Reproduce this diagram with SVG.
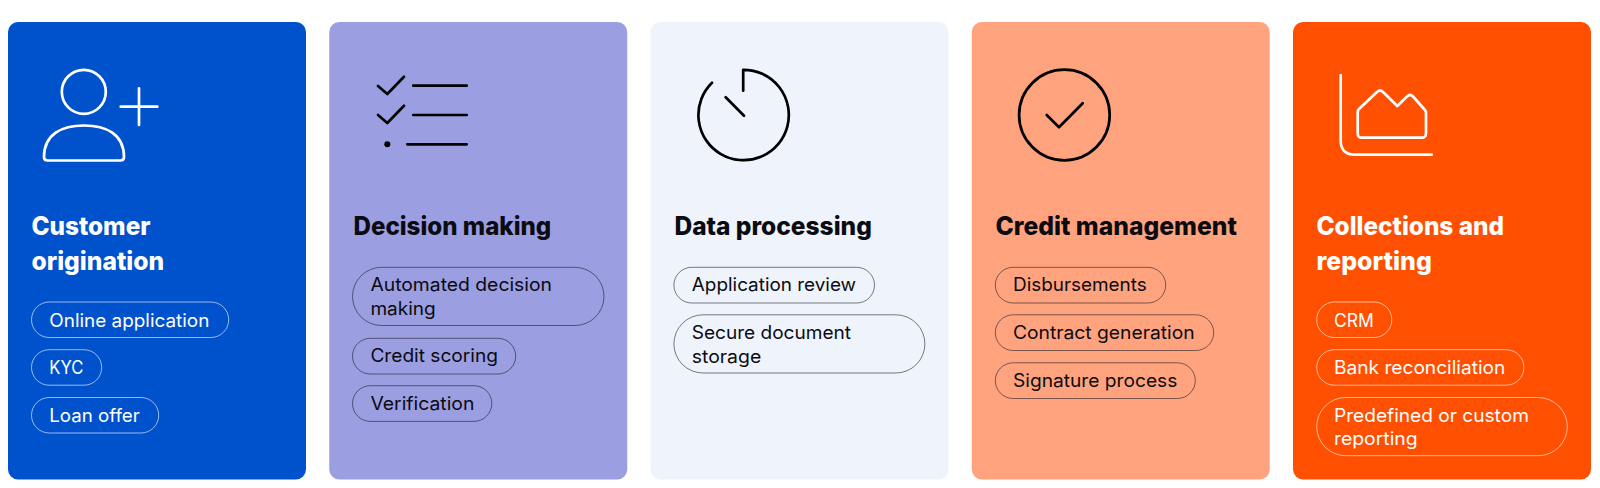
<svg xmlns="http://www.w3.org/2000/svg" width="1600" height="488" viewBox="0 0 1600 488">
<style>
.h{font-family:"Inter","Liberation Sans",sans-serif;font-weight:800;font-size:25.5px}
.t{font-family:"Inter","Liberation Sans",sans-serif;font-weight:400;font-size:18.4px}
.w{fill:#fff}.k{fill:#0b0b12}
.pw{fill:none;stroke:#fff;stroke-opacity:.75;stroke-width:.8}
.pk{fill:none;stroke:#15151f;stroke-opacity:.8;stroke-width:.7}
.iw{fill:none;stroke:#fff;stroke-width:2.700;stroke-linecap:round;stroke-linejoin:round}
.ik{fill:none;stroke:#000;stroke-width:2.700;stroke-linecap:round;stroke-linejoin:round}
</style>
<rect width="1600" height="488" fill="#fff"/>
<g id="card-customer-origination">
<rect x="8" y="22" width="298" height="457.500" rx="10" fill="#0052cc"/>
<circle cx="83.800" cy="91.800" r="22" class="iw"/>
<path d="M120.700 106.700H157.300M139 88.300V125" class="iw"/>
<path d="M44 157C44 134 62 125.500 84 125.500C106 125.500 124 134 124 157C124 159.500 123 160.500 120.500 160.500H47.500C45 160.500 44 159.500 44 157Z" class="iw"/>
<text class="h w" x="31.500" y="234.500" textLength="119" lengthAdjust="spacingAndGlyphs">Customer</text>
<text class="h w" x="31.500" y="270" textLength="132.600" lengthAdjust="spacingAndGlyphs">origination</text>
<rect x="31.500" y="302" width="197.200" height="35.500" rx="17.750" class="pw"/>
<text class="t w" x="49.300" y="326.500" textLength="160" lengthAdjust="spacingAndGlyphs">Online application</text>
<rect x="31.500" y="349.700" width="70.200" height="35.500" rx="17.750" class="pw"/>
<text class="t w" x="49.300" y="374.300" textLength="34" lengthAdjust="spacingAndGlyphs">KYC</text>
<rect x="31.500" y="397.500" width="127.200" height="35.500" rx="17.750" class="pw"/>
<text class="t w" x="49.300" y="422" textLength="90.500" lengthAdjust="spacingAndGlyphs">Loan offer</text>
</g>
<g id="card-decision-making">
<rect x="329.250" y="22" width="298" height="457.500" rx="10" fill="#9b9ee0"/>
<path d="M378 86L387.300 94L404 76.700M378 115L387.300 123L404 105.700M413.300 85.700H466.700M413.300 115H466.700M407.300 144.300H466.700" class="ik"/>
<circle cx="387.300" cy="144.300" r="3" fill="#000"/>
<text class="h k" x="353.500" y="234.500" textLength="197.700" lengthAdjust="spacingAndGlyphs">Decision making</text>
<rect x="352.500" y="267.300" width="251.500" height="58.200" rx="29.100" class="pk"/>
<text class="t k" x="370.400" y="291.300" textLength="181.600" lengthAdjust="spacingAndGlyphs">Automated decision</text>
<text class="t k" x="370.400" y="314.800" textLength="65.300" lengthAdjust="spacingAndGlyphs">making</text>
<rect x="352.500" y="338.300" width="163.200" height="35.700" rx="17.850" class="pk"/>
<text class="t k" x="370.400" y="362.200" textLength="127.600" lengthAdjust="spacingAndGlyphs">Credit scoring</text>
<rect x="352.500" y="385.700" width="139.300" height="35.700" rx="17.850" class="pk"/>
<text class="t k" x="370.400" y="409.700" textLength="104" lengthAdjust="spacingAndGlyphs">Verification</text>
</g>
<g id="card-data-processing">
<rect x="650.500" y="22" width="298" height="457.500" rx="10" fill="#eff3fb"/>
<path d="M712 82.700A45.200 45.200 0 1 0 743.200 69.800V90.700M725.700 97.300L744 115.700" class="ik"/>
<text class="h k" x="674.500" y="234.500" textLength="197.300" lengthAdjust="spacingAndGlyphs">Data processing</text>
<rect x="673.900" y="267.300" width="200.600" height="35.700" rx="17.850" class="pk"/>
<text class="t k" x="691.800" y="291.300" textLength="164.300" lengthAdjust="spacingAndGlyphs">Application review</text>
<rect x="673.900" y="314.800" width="251" height="58.200" rx="29.100" class="pk"/>
<text class="t k" x="691.800" y="339.300" textLength="159.200" lengthAdjust="spacingAndGlyphs">Secure document</text>
<text class="t k" x="691.800" y="362.700" textLength="69.400" lengthAdjust="spacingAndGlyphs">storage</text>
</g>
<g id="card-credit-management">
<rect x="971.750" y="22" width="298" height="457.500" rx="10" fill="#ffa37f"/>
<circle cx="1064.400" cy="115" r="45.300" class="ik"/>
<path d="M1046.700 115L1059 127.300L1082.700 103.300" class="ik"/>
<text class="h k" x="995.500" y="234.500" textLength="241.300" lengthAdjust="spacingAndGlyphs">Credit management</text>
<rect x="995.300" y="267.300" width="170.400" height="35.700" rx="17.850" class="pk"/>
<text class="t k" x="1013" y="291.300" textLength="133.700" lengthAdjust="spacingAndGlyphs">Disbursements</text>
<rect x="995.300" y="314.800" width="218.400" height="35.700" rx="17.850" class="pk"/>
<text class="t k" x="1013" y="339.300" textLength="181.600" lengthAdjust="spacingAndGlyphs">Contract generation</text>
<rect x="995.300" y="362.800" width="200" height="35.700" rx="17.850" class="pk"/>
<text class="t k" x="1013" y="387.300" textLength="164.300" lengthAdjust="spacingAndGlyphs">Signature process</text>
</g>
<g id="card-collections-reporting">
<rect x="1293" y="22" width="298" height="457.500" rx="10" fill="#ff4f00"/>
<path d="M1340.700 75V141C1340.700 150 1346 154.700 1355 154.700H1431.700" class="iw"/>
<path d="M1357.700 112C1357.700 110.500 1358 110 1359 109L1377 92C1379 90 1381 90 1383 92L1397.300 106L1407 96.500C1409 94.500 1411 94.500 1413 96.500L1424.500 109.500C1425.500 110.500 1426 111.500 1426 113V133C1426 136.500 1425 137.700 1421.500 137.700H1362C1358.700 137.700 1357.700 136.500 1357.700 133Z" class="iw"/>
<text class="h w" x="1316.500" y="234.500" textLength="187.500" lengthAdjust="spacingAndGlyphs">Collections and</text>
<text class="h w" x="1316.500" y="270" textLength="115.300" lengthAdjust="spacingAndGlyphs">reporting</text>
<rect x="1316.700" y="302" width="75.100" height="35.500" rx="17.750" class="pw"/>
<text class="t w" x="1334" y="326.500" textLength="39.800" lengthAdjust="spacingAndGlyphs">CRM</text>
<rect x="1316.700" y="349.700" width="207.200" height="35.500" rx="17.750" class="pw"/>
<text class="t w" x="1334" y="374.300" textLength="171.400" lengthAdjust="spacingAndGlyphs">Bank reconciliation</text>
<rect x="1316.700" y="397.500" width="250.600" height="58.200" rx="29.100" class="pw"/>
<text class="t w" x="1334" y="421.900" textLength="194.900" lengthAdjust="spacingAndGlyphs">Predefined or custom</text>
<text class="t w" x="1334" y="445.400" textLength="83.700" lengthAdjust="spacingAndGlyphs">reporting</text>
</g>
<g id="connectors"/>
</svg>
